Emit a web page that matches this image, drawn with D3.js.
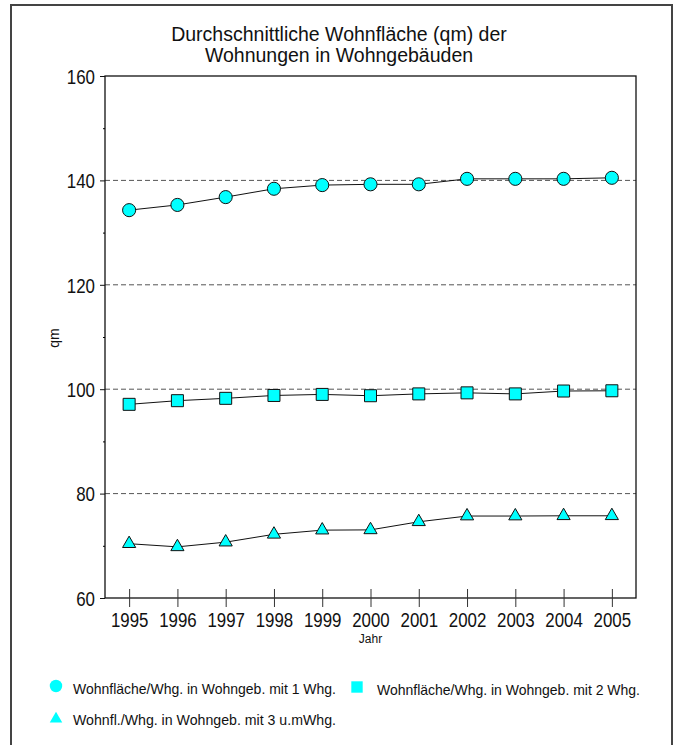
<!DOCTYPE html>
<meta charset="utf-8">
<style>
body { margin: 0; background: #fff; }
text { font-family: "Liberation Sans", Arial, sans-serif; }
.tick text { font-family: "Liberation Sans Narrow", "Arial Narrow", "Liberation Sans", sans-serif; font-size: 20px; fill: #111; }
.legend text { font-family: "Liberation Sans Narrow", "Arial Narrow", "Liberation Sans", sans-serif; font-size: 15px; fill: #111; }
</style>
<body>
<script src="https://cdn.jsdelivr.net/npm/d3@7"></script>
<script>

// years on the x axis
var years = ["1995", "1996", "1997", "1998", "1999", "2000", "2001", "2002", "2003", "2004", "2005"];

// average living space (qm)
var oneFlat = [134.3, 135.3, 136.8, 138.4, 139.1, 139.25, 139.25, 140.3, 140.3, 140.3, 140.5];
var twoFlats = [97.1, 97.8, 98.25, 98.8, 99.0, 98.75, 99.1, 99.3, 99.1, 99.65, 99.7];
var threeFlats = [70.4, 69.8, 70.7, 72.2, 73.0, 73.05, 74.6, 75.7, 75.7, 75.75, 75.75];

var yTicks = [60, 80, 100, 120, 140, 160];
var yMinor = [70, 90, 110, 130, 150];
var gridValues = [80, 100, 120, 140];

var legendLabels = [
  "Wohnfläche/Whg. in Wohngeb. mit 1 Whg.",
  "Wohnfläche/Whg. in Wohngeb. mit 2 Whg.",
  "Wohnfl./Whg. in Wohngeb. mit 3 u.mWhg."
];

var width = 681, height = 745;
// plot area
var plotLeft = 105, plotRight = 636, plotTop = 76, plotBottom = 598;

var svg = d3.select("body").append("svg")
    .attr("width", width)
    .attr("height", height);

// outer frame
svg.append("rect")
    .attr("x", 11).attr("y", 5)
    .attr("width", 661).attr("height", 760)
    .attr("fill", "none")
    .attr("stroke", "#444")
    .attr("stroke-width", 2);

var x = d3.scalePoint()
    .domain(years)
    .range([plotLeft, plotRight])
    .padding(0.5);

var y = d3.scaleLinear()
    .domain([60, 160])
    .range([plotBottom, plotTop]);

// title
var title = svg.append("text")
    .attr("text-anchor", "middle")
    .style("font-size", "19.5px")
    .attr("fill", "#111");
title.append("tspan").attr("x", 339).attr("y", 41).text("Durchschnittliche Wohnfläche (qm) der");
title.append("tspan").attr("x", 339).attr("y", 62).text("Wohnungen in Wohngebäuden");

// dashed grid lines
svg.selectAll(".grid")
  .data(gridValues)
  .enter().append("line")
    .attr("class", "grid")
    .attr("x1", plotLeft).attr("x2", plotRight)
    .attr("y1", function(d) { return y(d); })
    .attr("y2", function(d) { return y(d); })
    .attr("stroke", "#555")
    .attr("stroke-dasharray", "5,3");

// plot frame
svg.append("rect")
    .attr("x", plotLeft).attr("y", plotTop)
    .attr("width", plotRight - plotLeft).attr("height", plotBottom - plotTop)
    .attr("fill", "none")
    .attr("stroke", "#111")
    .attr("stroke-width", 1.3);

// y axis
var yAxis = svg.append("g")
    .attr("transform", "translate(" + plotLeft + ",0)")
    .call(d3.axisLeft(y).tickValues(yTicks).tickSize(5).tickPadding(5).tickFormat(d3.format("d")));
yAxis.select(".domain").remove();
yAxis.selectAll(".tick line").attr("stroke", "#111");
yAxis.selectAll(".tick text")
    .attr("dy", "0.36em")
    .attr("textLength", function(d) { return String(d).length * 9.4; })
    .attr("lengthAdjust", "spacingAndGlyphs");

var yMinorAxis = svg.append("g")
    .attr("transform", "translate(" + plotLeft + ",0)")
    .call(d3.axisLeft(y).tickValues(yMinor).tickSize(2).tickFormat(""));
yMinorAxis.select(".domain").remove();

// x axis, ticks cross the axis line
var xAxis = svg.append("g")
    .attr("transform", "translate(0," + plotBottom + ")")
    .call(d3.axisBottom(x).tickSize(0));
xAxis.select(".domain").remove();
xAxis.selectAll(".tick line")
    .attr("y1", -9).attr("y2", 9)
    .attr("stroke", "#333");
xAxis.selectAll(".tick text")
    .attr("y", 29).attr("dy", 0)
    .attr("textLength", 37.5)
    .attr("lengthAdjust", "spacingAndGlyphs");

// axis titles
svg.append("text")
    .attr("transform", "translate(59,338) rotate(-90)")
    .attr("text-anchor", "middle")
    .style("font-size", "14px")
    .attr("fill", "#111")
    .text("qm");

svg.append("text")
    .attr("x", (plotLeft + plotRight) / 2).attr("y", 643)
    .attr("text-anchor", "middle")
    .style("font-size", "12px")
    .attr("fill", "#111")
    .text("Jahr");

// series
var series = [
  { values: oneFlat, symbol: d3.symbolCircle, size: 135 },
  { values: twoFlats, symbol: d3.symbolSquare, size: 144 },
  { values: threeFlats, symbol: d3.symbolTriangle, size: 75 }
];

var line = d3.line()
    .x(function(d, i) { return x(years[i]); })
    .y(function(d) { return y(d); });

series.forEach(function(s) {
  svg.append("path")
      .datum(s.values)
      .attr("d", line)
      .attr("fill", "none")
      .attr("stroke", "#111")
      .attr("stroke-width", 1);

  svg.selectAll(null)
    .data(s.values)
    .enter().append("path")
      .attr("transform", function(d, i) { return "translate(" + x(years[i]) + "," + y(d) + ")"; })
      .attr("d", d3.symbol().type(s.symbol).size(s.size))
      .attr("fill", "#00ffff")
      .attr("stroke", "#111")
      .attr("stroke-width", 1);
});

// legend
var legendPos = [
  { x: 56, y: 686, tx: 73, ty: 694, w: 263 },
  { x: 357, y: 687, tx: 377, ty: 695, w: 263 },
  { x: 56, y: 719, tx: 73, ty: 725, w: 263 }
];

var legend = svg.append("g").attr("class", "legend");
legendPos.forEach(function(p, i) {
  legend.append("path")
      .attr("transform", "translate(" + p.x + "," + p.y + ")")
      .attr("d", d3.symbol().type(series[i].symbol).size(series[i].size * 0.9))
      .attr("fill", "#00ffff");
  legend.append("text")
      .attr("x", p.tx).attr("y", p.ty)
      .attr("textLength", p.w)
      .attr("lengthAdjust", "spacingAndGlyphs")
      .text(legendLabels[i]);
});

</script>
</body>
